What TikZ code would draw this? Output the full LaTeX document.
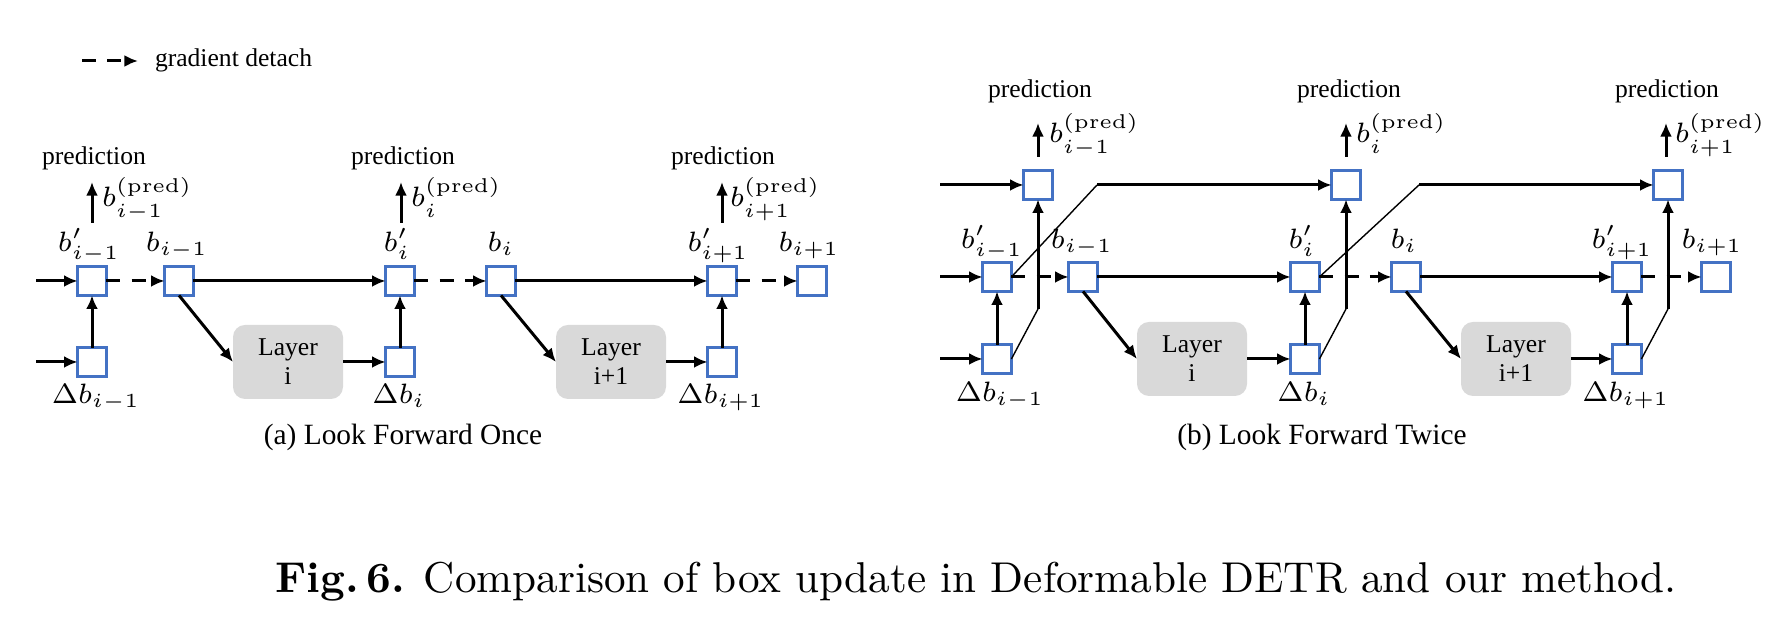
\documentclass[tikz,border=0pt]{standalone}
\usepackage{fontspec}
\newfontfamily\tnr{Liberation Serif}
\usetikzlibrary{arrows.meta,calc}
\definecolor{boxblue}{RGB}{68,114,196}
\definecolor{layergray}{RGB}{217,217,217}
\begin{document}
\begin{tikzpicture}[x=0.25pt,y=-0.25pt,
  every node/.style={inner sep=0pt, outer sep=0pt},
  bx/.style={draw=boxblue, line width=0.6pt, fill=white, minimum size=7.2pt},
  layerbox/.style={fill=layergray, rounded corners=3pt, minimum width=27.5pt, minimum height=18.5pt, align=center, font=\tnr\fontsize{6.4}{7.25}\selectfont},
  arr/.style={line width=0.75pt, -{Latex[length=3.4pt,width=3pt]}},
  darr/.style={arr, dash pattern=on 3.5pt off 2.8pt},
  thinl/.style={line width=0.35pt},
  lbl/.style={font=\tnr\fontsize{6.4}{7.7}\selectfont, anchor=base},
  mlbl/.style={font=\tnr\fontsize{7}{8}\selectfont, anchor=base},
  plbl/.style={font=\tnr\fontsize{6.4}{7.7}\selectfont, anchor=base west},
  mplbl/.style={font=\tnr\fontsize{7}{8}\selectfont, anchor=base west},
  subcap/.style={font=\tnr\fontsize{7.35}{9}\selectfont, anchor=base},
]
\useasboundingbox (0,0) rectangle (1770,618);

% legend
\coordinate (lg1) at (82,61);
\coordinate (lg2) at (138,61);
\draw[darr] (lg1) -- (lg2);
\node[plbl] (lgt) at (155,67) {gradient detach};

% ================= panel (a) =================
\node[bx] (a1) at (92,281) {};
\node[bx] (a2) at (179,281) {};
\node[bx] (a3) at (400,281) {};
\node[bx] (a4) at (501,281) {};
\node[bx] (a5) at (722,281) {};
\node[bx] (a6) at (812,281) {};
\node[bx] (ad1) at (92,362) {};
\node[bx] (ad2) at (400,362) {};
\node[bx] (ad3) at (722,362) {};
\node[layerbox] (aL1) at (288,362) {Layer\\i};
\node[layerbox] (aL2) at (611,362) {Layer\\i+1};

\coordinate (ain1) at (36,281);
\coordinate (ain2) at (36,362);
\draw[arr] (ain1) -- (a1);
\draw[arr] (ain2) -- (ad1);
\draw[darr] (a1) -- (a2);
\draw[arr] (a2) -- (a3);
\draw[darr] (a3) -- (a4);
\draw[arr] (a4) -- (a5);
\draw[darr] (a5) -- (a6);
\draw[arr] (ad1) -- (a1);
\draw[arr] (ad2) -- (a3);
\draw[arr] (ad3) -- (a5);
\draw[arr] (a2.south) -- (aL1.west);
\draw[arr] (a4.south) -- (aL2.west);
\draw[arr] (aL1) -- (ad2);
\draw[arr] (aL2) -- (ad3);

\node[mlbl] (la1) at (89,252) {$b'_{i-1}$};
\node[mlbl] (la2) at (177,252) {$b_{i-1}$};
\node[mlbl] (la3) at (397,252) {$b'_{i}$};
\node[mlbl] (la4) at (501,252) {$b_{i}$};
\node[mlbl] (la5) at (718,252) {$b'_{i+1}$};
\node[mlbl] (la6) at (809,252) {$b_{i+1}$};
\node[mlbl] (lad1) at (96,404) {$\Delta b_{i-1}$};
\node[mlbl] (lad2) at (399,404) {$\Delta b_{i}$};
\node[mlbl] (lad3) at (721,404) {$\Delta b_{i+1}$};

\node[lbl] (apr1) at (94,165) {prediction};
\node[lbl] (apr2) at (403,165) {prediction};
\node[lbl] (apr3) at (723,165) {prediction};
\coordinate (ap1s) at (92,223); \coordinate (ap1e) at (92,182);
\coordinate (ap2s) at (401,223); \coordinate (ap2e) at (401,182);
\coordinate (ap3s) at (722,223); \coordinate (ap3e) at (722,182);
\draw[arr] (ap1s) -- (ap1e);
\draw[arr] (ap2s) -- (ap2e);
\draw[arr] (ap3s) -- (ap3e);
\node[mplbl] (apl1) at (102,207) {$b^{(\mathrm{pred})}_{i-1}$};
\node[mplbl] (apl2) at (411,207) {$b^{(\mathrm{pred})}_{i}$};
\node[mplbl] (apl3) at (730,207) {$b^{(\mathrm{pred})}_{i+1}$};

\node[subcap] (capa) at (403,445) {(a) Look Forward Once};

% ================= panel (b) =================
\node[bx] (b1) at (997,277) {};
\node[bx] (b2) at (1083,277) {};
\node[bx] (b3) at (1305,277) {};
\node[bx] (b4) at (1406,277) {};
\node[bx] (b5) at (1627,277) {};
\node[bx] (b6) at (1716,277) {};
\node[bx] (bd1) at (997,359) {};
\node[bx] (bd2) at (1305,359) {};
\node[bx] (bd3) at (1627,359) {};
\node[bx] (bp1) at (1038,185) {};
\node[bx] (bp2) at (1346,185) {};
\node[bx] (bp3) at (1668,185) {};
\node[layerbox] (bL1) at (1192,359) {Layer\\i};
\node[layerbox] (bL2) at (1516,359) {Layer\\i+1};

\coordinate (bin0) at (940,185);
\coordinate (bin1) at (940,277);
\coordinate (bin2) at (940,359);
\draw[arr] (bin0) -- (bp1);
\draw[arr] (bin1) -- (b1);
\draw[arr] (bin2) -- (bd1);

\coordinate (bc1) at (1097,185);
\coordinate (bc2) at (1419,185);
\coordinate (bv1) at (1038,309);
\coordinate (bv2) at (1346,309);
\coordinate (bv3) at (1668,309);

\draw[thinl] (b1.east) -- (bc1);
\draw[thinl] (b3.east) -- (bc2);
\draw[arr] (bc1) -- (bp2);
\draw[arr] (bc2) -- (bp3);
\draw[thinl] (bd1.east) -- (bv1);
\draw[thinl] (bd2.east) -- (bv2);
\draw[thinl] (bd3.east) -- (bv3);
\draw[arr] (bv1) -- (bp1);
\draw[arr] (bv2) -- (bp2);
\draw[arr] (bv3) -- (bp3);

\draw[darr] (b1) -- (b2);
\draw[arr] (b2) -- (b3);
\draw[darr] (b3) -- (b4);
\draw[arr] (b4) -- (b5);
\draw[darr] (b5) -- (b6);
\draw[arr] (bd1) -- (b1);
\draw[arr] (bd2) -- (b3);
\draw[arr] (bd3) -- (b5);
\draw[arr] (b2.south) -- (bL1.west);
\draw[arr] (b4.south) -- (bL2.west);
\draw[arr] (bL1) -- (bd2);
\draw[arr] (bL2) -- (bd3);

\node[mlbl] (lb1) at (992,249) {$b'_{i-1}$};
\node[mlbl] (lb2) at (1082,249) {$b_{i-1}$};
\node[mlbl] (lb3) at (1302,249) {$b'_{i}$};
\node[mlbl] (lb4) at (1404,249) {$b_{i}$};
\node[mlbl] (lb5) at (1622,249) {$b'_{i+1}$};
\node[mlbl] (lb6) at (1712,249) {$b_{i+1}$};
\node[mlbl] (lbd1) at (1000,402) {$\Delta b_{i-1}$};
\node[mlbl] (lbd2) at (1304,402) {$\Delta b_{i}$};
\node[mlbl] (lbd3) at (1626,402) {$\Delta b_{i+1}$};

\node[lbl] (bpr1) at (1040,98) {prediction};
\node[lbl] (bpr2) at (1349,98) {prediction};
\node[lbl] (bpr3) at (1667,98) {prediction};
\coordinate (bp1s) at (1038,157); \coordinate (bp1e) at (1038,123);
\coordinate (bp2s) at (1346,157); \coordinate (bp2e) at (1346,123);
\coordinate (bp3s) at (1666,157); \coordinate (bp3e) at (1666,123);
\draw[arr] (bp1s) -- (bp1e);
\draw[arr] (bp2s) -- (bp2e);
\draw[arr] (bp3s) -- (bp3e);
\node[mplbl] (bpl1) at (1049,143) {$b^{(\mathrm{pred})}_{i-1}$};
\node[mplbl] (bpl2) at (1356,143) {$b^{(\mathrm{pred})}_{i}$};
\node[mplbl] (bpl3) at (1675,143) {$b^{(\mathrm{pred})}_{i+1}$};

\node[subcap] (capb) at (1322,445) {(b) Look Forward Twice};

% figure caption
\node[anchor=base, font=\fontsize{10.78}{13}\selectfont] (figcap) at (976,593) {\textbf{Fig.\,6.} Comparison of box update in Deformable DETR and our method.};
\end{tikzpicture}
\end{document}
